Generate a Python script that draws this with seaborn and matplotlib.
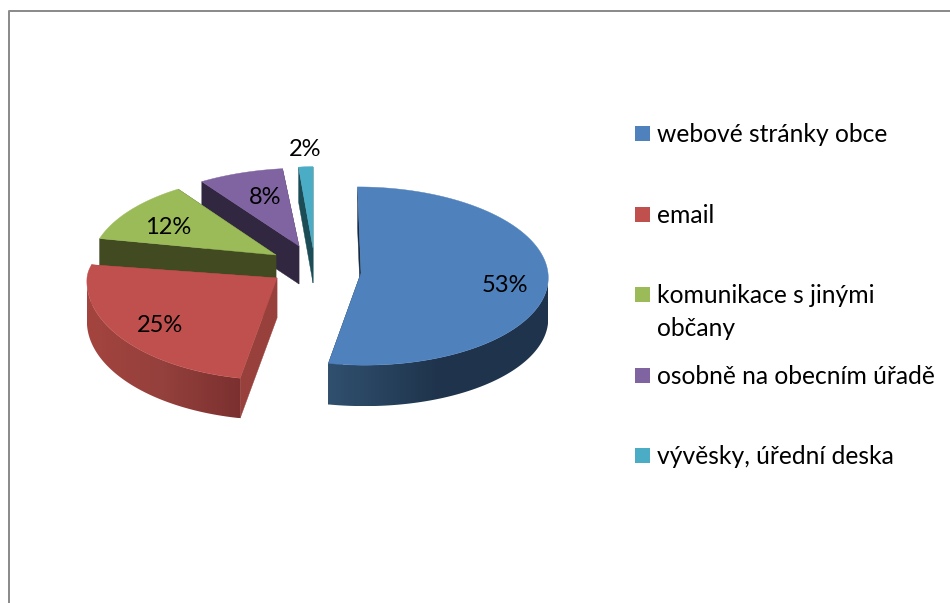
import numpy as np
import matplotlib
matplotlib.use('Agg')
import matplotlib.pyplot as plt
from matplotlib.colors import LinearSegmentedColormap
from matplotlib.patches import Polygon, Rectangle
import seaborn as sns

# data
categories = ['webové stránky obce', 'email', 'komunikace s jinými\nobčany',
              'osobně na obecním úřadě', 'vývěsky, úřední deska']
shares = [53, 25, 12, 8, 2]

# look of the slices
top_colors = ['#4f81bd', '#c0504d', '#9bbb59', '#8064a2', '#4bacc6']
face_colors = ['#17293f', '#98413c', '#414a20', '#312741', '#1c4d57']
rim_stops = [['#30506f', '#1f344c', '#1f344c'], ['#a4443f', '#94403c', '#7b302f'],
             ['#414a20'] * 2, ['#312741'] * 2, ['#1c4d57'] * 2]

# layout in pixels: pie centre, explode offset, radii, perspective, shear
centre = (318, 265)
explode = [(43, 8), (-41, 13), (-42, -10), (-19, -19), (-5, -17)]
radius_x = [187, 190, 184, 190, 130]
radius_y = [89, 98.6, 90, 88, 92]
back_squash = [1, 0.72, 1, 1, 1]
persp = [0.034, 0.034, 0.13, 0.13, 0.13]
shear = [0.04, 0, 0, -0.06, 0]
depth = [41, 40, 40, 38, 35]
label_pos = [(505, 285), (160, 325), (168, 227), (265, 197), (305, 149)]
legend_y = [133, 214, 294, 375, 455]

sns.set_theme(style='white')
plt.rcParams['font.family'] = ['Lato', 'DejaVu Sans']

fig = plt.figure(figsize=(9.5, 6.03), dpi=100)
ax = fig.add_axes([0, 0, 1, 1])
ax.axis('off')

# thin frame, only top and left are inside the picture
ax.plot([8.5, 8.5, 950], [603, 10.5, 10.5], color='#8c8c8c', lw=1.44, solid_capstyle='butt')


def project(i, t):
    ax0 = centre[0] + explode[i][0]
    ay0 = centre[1] + explode[i][1]
    s = 1 / (1 + persp[i] * np.cos(t))
    up = radius_y[i] * np.cos(t) * s
    up = np.where(np.cos(t) > 0, up * back_squash[i], up)
    x = ax0 + radius_x[i] * np.sin(t) * s - shear[i] * up
    return x, ay0 - up


# angles come from the shares, clockwise from 12 o'clock
edges = np.radians(np.cumsum([0] + shares) * 3.6)

for i in [4, 3, 2, 1, 0]:
    t0, t1 = edges[i], edges[i + 1]
    d = depth[i]
    apex = (centre[0] + explode[i][0], centre[1] + explode[i][1])
    ts = np.linspace(t0, t1, 120)
    px, py = project(i, ts)
    z = 2 + 2 * (4 - i)

    # two cut faces
    for k in [0, -1]:
        ax.add_patch(Polygon([apex, (px[k], py[k]), (px[k], py[k] + d), (apex[0], apex[1] + d)],
                             closed=True, fc=face_colors[i], ec=face_colors[i], lw=0.3, zorder=z))

    # outer rim, only the front part shows, gradient runs left to right
    lo, hi = max(t0, np.pi / 2), min(t1, 3 * np.pi / 2)
    if hi > lo:
        rim_t = np.linspace(lo, hi, 90)
        rx, ry = project(i, rim_t)
        outline = list(zip(rx, ry)) + list(zip(rx[::-1], ry[::-1] + d))
        clip = Polygon(outline, closed=True, fc='none', ec='none', transform=ax.transData)
        ax.add_patch(clip)
        cmap = LinearSegmentedColormap.from_list('rim', rim_stops[i])
        im = ax.imshow(np.linspace(0, 1, 256).reshape(1, -1), cmap=cmap, aspect='auto',
                       extent=(rx.min(), rx.max(), ry.max() + d, ry.min()), zorder=z)
        im.set_clip_path(clip)

    # top of the slice
    pts = [apex] + list(zip(px, py))
    ax.add_patch(Polygon(pts, closed=True, fc=top_colors[i], ec=top_colors[i], lw=0.3, zorder=z + 1))

    ax.text(label_pos[i][0], label_pos[i][1], f'{shares[i]}%', fontsize=17, color='black',
            ha='center', va='center', zorder=20)

# legend, wrapped label grows downwards
for i, name in enumerate(categories):
    ax.add_patch(Rectangle((635, legend_y[i] - 7.5), 15, 15, fc=top_colors[i], ec='none'))
    ax.text(657, legend_y[i] - 10, name, fontsize=17.7, color='black', ha='left', va='top',
            linespacing=1.5)

ax.set_xlim(0, 950)
ax.set_ylim(603, 0)

fig.savefig('out.png', dpi=100)
